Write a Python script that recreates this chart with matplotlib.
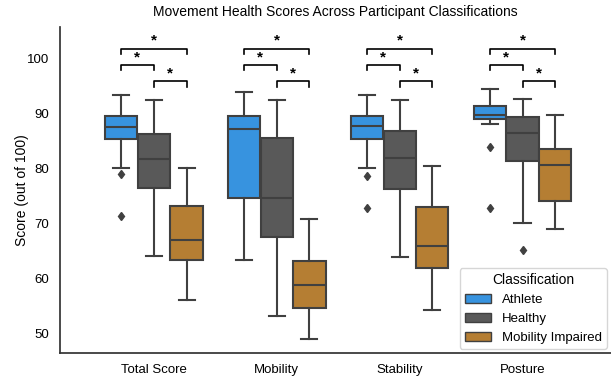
import matplotlib
matplotlib.use("Agg")
import matplotlib.pyplot as plt
import matplotlib.patches as mpatches
import numpy as np

plt.rcParams['font.family'] = ['Liberation Sans', 'DejaVu Sans']

categories = ['Total Score', 'Mobility', 'Stability', 'Posture']
groups = ['Athlete', 'Healthy', 'Mobility Impaired']
colors = ['#3793df', '#595959', '#b57e33']

# box stats, one value per category
athlete_med = [87.6, 87.3, 87.8, 89.8]
athlete_q1 = [85.5, 74.7, 85.5, 89.0]
athlete_q3 = [89.6, 89.6, 89.6, 91.4]
athlete_lo = [80.1, 63.5, 80.1, 88.1]
athlete_hi = [93.5, 94.0, 93.5, 94.5]
athlete_fliers = [[79.0, 71.5], [], [78.8, 72.8], [84.0, 72.8]]

healthy_med = [81.8, 74.7, 82.0, 86.5]
healthy_q1 = [76.5, 67.7, 76.3, 81.4]
healthy_q3 = [86.4, 85.7, 86.9, 89.4]
healthy_lo = [64.1, 53.3, 63.9, 70.2]
healthy_hi = [92.5, 92.5, 92.5, 92.8]
healthy_fliers = [[], [], [], [65.3]]

impaired_med = [67.1, 58.8, 65.9, 80.7]
impaired_q1 = [63.5, 54.7, 61.9, 74.2]
impaired_q3 = [73.3, 63.3, 73.1, 83.7]
impaired_lo = [56.2, 49.1, 54.4, 69.1]
impaired_hi = [80.1, 70.9, 80.5, 89.8]
impaired_fliers = [[], [], [], []]

# significance pairs (group index a, group index b, bracket level)
sig_pairs = [(0, 1, 1), (1, 2, 0), (0, 2, 2)]
sig_label = '*'

data = [
    (athlete_med, athlete_q1, athlete_q3, athlete_lo, athlete_hi, athlete_fliers),
    (healthy_med, healthy_q1, healthy_q3, healthy_lo, healthy_hi, healthy_fliers),
    (impaired_med, impaired_q1, impaired_q3, impaired_lo, impaired_hi, impaired_fliers),
]


def draw():
    fig = plt.figure(figsize=(6.11, 3.76), dpi=100)
    ax = fig.add_axes([0.098, 0.061, 0.902, 0.867])

    x = np.arange(len(categories))
    width = 0.8 / len(groups)
    edge = '#404040'

    for g, (med, q1, q3, lo, hi, fl) in enumerate(data):
        stats = []
        for i in range(len(categories)):
            stats.append({'med': med[i], 'q1': q1[i], 'q3': q3[i],
                          'whislo': lo[i], 'whishi': hi[i], 'fliers': fl[i]})
        pos = x + (g - 1) * width
        ax.bxp(stats, positions=pos, widths=width * 0.98, patch_artist=True,
               showfliers=True,
               boxprops=dict(facecolor=colors[g], edgecolor=edge, linewidth=1.5),
               medianprops=dict(color=edge, linewidth=1.5),
               whiskerprops=dict(color=edge, linewidth=1.5),
               capprops=dict(color=edge, linewidth=1.5),
               flierprops=dict(marker='d', markerfacecolor=edge, markeredgecolor=edge,
                               markersize=4.5))

    # significance brackets
    levels = [95.9, 98.95, 101.9]
    tick = 1.0
    for i in range(len(categories)):
        for a, b, lvl in sig_pairs:
            x1 = x[i] + (a - 1) * width
            x2 = x[i] + (b - 1) * width
            y = levels[lvl]
            ax.plot([x1, x1, x2, x2], [y - tick, y, y, y - tick], color='black', lw=1.2)
            ax.text((x1 + x2) / 2, y + 0.1, sig_label, ha='center', va='bottom',
                    fontsize=11, fontweight='bold')

    ax.set_xlim(-0.764, 3.72)
    ax.set_ylim(46.5, 105.8)
    ax.set_xticks(x)
    ax.set_xticklabels(categories, fontsize=9.5)
    ax.set_yticks([50, 60, 70, 80, 90, 100])
    ax.tick_params(axis='y', labelsize=9.5, length=0, pad=8)
    ax.tick_params(axis='x', length=0, pad=8)
    ax.set_ylabel('Score (out of 100)', fontsize=10, labelpad=-2)
    ax.set_title('Movement Health Scores Across Participant Classifications', fontsize=10, pad=8)

    for s in ['top', 'right']:
        ax.spines[s].set_visible(False)
    for s in ['left', 'bottom']:
        ax.spines[s].set_color('#333333')
        ax.spines[s].set_linewidth(1.25)

    handles = [mpatches.Patch(facecolor=colors[g], edgecolor=edge, linewidth=1.0, label=groups[g])
               for g in range(len(groups))]
    leg = ax.legend(handles=handles, title='Classification', loc='lower right',
                    fontsize=9.5, title_fontsize=10, frameon=True, fancybox=True,
                    handlelength=2.0, borderaxespad=0.3)
    leg.get_frame().set_edgecolor('#cccccc')

    fig.savefig('out.png', dpi=100)


if __name__ == '__main__':
    draw()
